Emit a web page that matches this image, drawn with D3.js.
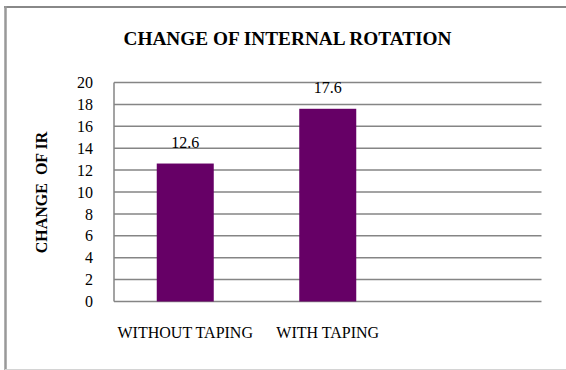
<!DOCTYPE html>
<html>
<head>
<meta charset="utf-8">
<script src="https://cdn.jsdelivr.net/npm/d3@7"></script>
<style>
  html, body { margin: 0; padding: 0; background: #fff; }
  svg { display: block; }
  text { font-family: "Liberation Serif", "Times New Roman", serif; fill: #000; }
</style>
</head>
<body>
<svg id="chart" width="566" height="370"></svg>
<script>
// Chart data
const categories = ["WITHOUT TAPING", "WITH TAPING", ""];
const values = [12.6, 17.6, null];
const yTicks = [0, 2, 4, 6, 8, 10, 12, 14, 16, 18, 20];
const titleText = "CHANGE OF INTERNAL ROTATION";
const yLabelText = "CHANGE\u00A0\u00A0OF IR";

const svg = d3.select("#chart");

// Frame around the chart
svg.append("line").attr("x1", 4).attr("x2", 566).attr("y1", 7).attr("y2", 7)
  .attr("stroke", "#888").attr("stroke-width", 2);
svg.append("line").attr("x1", 5.5).attr("x2", 5.5).attr("y1", 6).attr("y2", 370)
  .attr("stroke", "#999").attr("stroke-width", 2.5);
svg.append("line").attr("x1", 5).attr("x2", 566).attr("y1", 369.5).attr("y2", 369.5)
  .attr("stroke", "#d4d4d4").attr("stroke-width", 1);

const plot = { left: 114, right: 541.5, top: 82.5, bottom: 301.5 };

const x = d3.scaleBand().domain(categories.map((c, i) => i))
  .range([plot.left, plot.right]).padding(0);
const y = d3.scaleLinear().domain([0, 20]).range([plot.bottom, plot.top]);

// Horizontal gridlines
svg.append("g").selectAll("line").data(yTicks).join("line")
  .attr("x1", plot.left).attr("x2", plot.right)
  .attr("y1", d => y(d)).attr("y2", d => y(d))
  .attr("stroke", "#858585").attr("stroke-width", 1.5);

// Left axis line
svg.append("line").attr("x1", plot.left).attr("x2", plot.left)
  .attr("y1", plot.top).attr("y2", plot.bottom)
  .attr("stroke", "#858585").attr("stroke-width", 1.5);

// Y tick labels
const yAxis = d3.axisLeft(y).tickValues(yTicks).tickSize(0).tickPadding(0);
const gy = svg.append("g").attr("transform", `translate(${plot.left - 21},0)`).call(yAxis);
gy.select(".domain").remove();
gy.selectAll("text").style("font-family", '"Liberation Serif", serif')
  .style("font-size", "16px").attr("fill", "#000");

// Bars
const barFrac = 0.4;
const bars = categories.map((c, i) => ({ i, v: values[i] })).filter(d => d.v != null);
svg.append("g").selectAll("rect").data(bars).join("rect")
  .attr("x", d => x(d.i) + x.bandwidth() * (1 - barFrac) / 2)
  .attr("width", x.bandwidth() * barFrac)
  .attr("y", d => y(d.v))
  .attr("height", d => y(0) - y(d.v))
  .attr("fill", "#660066");

// Value labels
svg.append("g").selectAll("text").data(bars).join("text")
  .attr("x", d => x(d.i) + x.bandwidth() / 2)
  .attr("y", d => y(d.v) - 15.3)
  .attr("text-anchor", "middle")
  .style("font-size", "16px")
  .text(d => d.v.toFixed(1));

// Category labels
svg.append("g").selectAll("text").data(categories).join("text")
  .attr("x", (d, i) => x(i) + x.bandwidth() / 2)
  .attr("y", 338)
  .attr("text-anchor", "middle")
  .style("font-size", "16px")
  .text(d => d);

// Title
svg.append("text").attr("x", 287.5).attr("y", 44.5)
  .attr("text-anchor", "middle")
  .style("font-size", "19.3px").style("font-weight", "bold")
  .text(titleText);

// Y axis title
svg.append("text")
  .attr("transform", "translate(47,192.5) rotate(-90)")
  .attr("text-anchor", "middle")
  .style("font-size", "16px").style("font-weight", "bold")
  .text(yLabelText);
</script>
</body>
</html>
